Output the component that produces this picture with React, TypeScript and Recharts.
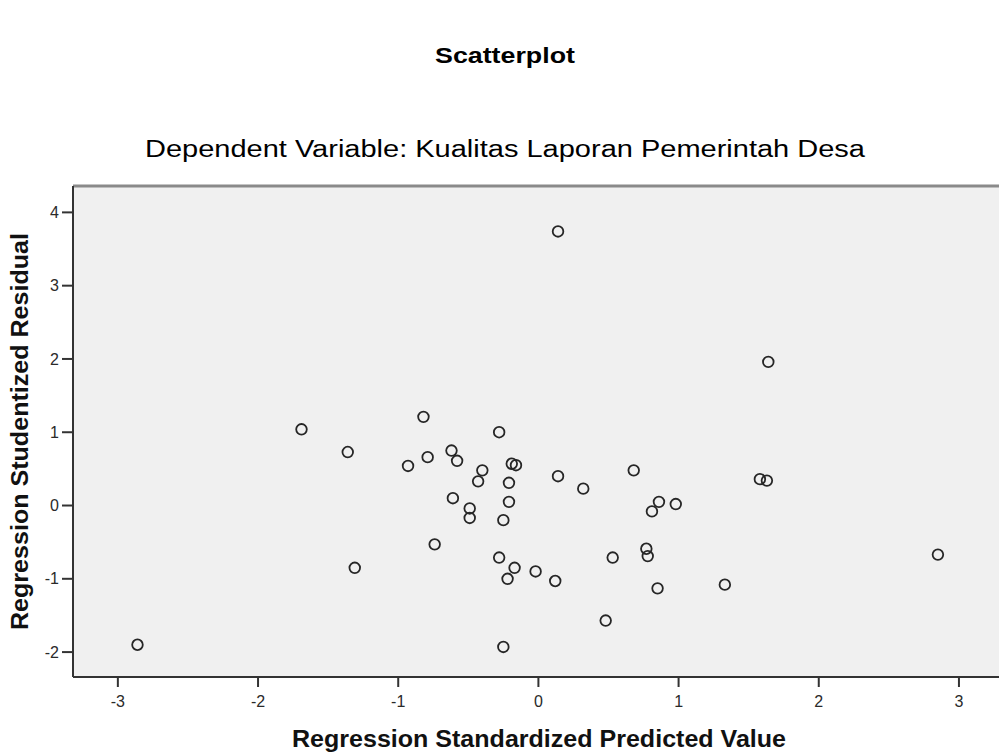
import { ScatterChart, Scatter, XAxis, YAxis, CartesianGrid, ReferenceLine } from "recharts";

// Regression Standardized Predicted Value (x) / Studentized Residual (y)
const predicted = [
  0.14, 1.64, -1.69, -0.82, -0.28, -1.36, -0.62, -0.79, -0.58, -0.93, -0.4,
  -0.19, -0.16, 0.14, 0.68, -0.43, -0.21, 0.32, 1.58, 1.63, -0.61, -0.21,
  0.86, 0.98, -0.49, -0.49, 0.81, -0.25, -0.74, 0.77, 0.78, 0.53, -0.28,
  -1.31, -0.17, -0.02, -0.22, 0.12, 1.33, 0.85, 0.48, 2.85, -2.86, -0.25,
];
const residual = [
  3.74, 1.96, 1.04, 1.21, 1.0, 0.73, 0.75, 0.66, 0.61, 0.54, 0.48,
  0.57, 0.55, 0.4, 0.48, 0.33, 0.31, 0.23, 0.36, 0.34, 0.1, 0.05,
  0.05, 0.02, -0.04, -0.17, -0.08, -0.2, -0.53, -0.59, -0.69, -0.71, -0.71,
  -0.85, -0.85, -0.9, -1.0, -1.03, -1.08, -1.13, -1.57, -0.67, -1.9, -1.93,
];
const xTicks = [-3, -2, -1, 0, 1, 2, 3];
const yTicks = [-2, -1, 0, 1, 2, 3, 4];

const X_DOMAIN: [number, number] = [-3.32, 3.3];
const Y_DOMAIN: [number, number] = [-2.34, 4.36];

const points = predicted.map((x, i) => ({ x, y: residual[i] }));

const FONT = "'Liberation Sans', Arial, sans-serif";

const Ring = (props: any) => (
  <circle cx={props.cx} cy={props.cy} r={5.3} fill="none" stroke="#262626" strokeWidth={1.8} />
);

export default function App() {
  return (
    <div style={{ position: "absolute", left: 0, top: 0, width: 999, height: 753, overflow: "hidden", background: "#fff", fontFamily: FONT }}>
      <ScatterChart width={1003} height={753} margin={{ top: 186, right: 2, bottom: 46, left: 43 }}>
        <CartesianGrid fill="#f0f0f0" stroke="none" horizontal={false} vertical={false} />
        <XAxis
          type="number"
          dataKey="x"
          domain={X_DOMAIN}
          ticks={xTicks}
          allowDataOverflow
          height={30}
          tickSize={10}
          tickMargin={9}
          tick={{ fontSize: 16, fill: "#2a2a2a", fontFamily: FONT }}
          tickLine={{ stroke: "#333", strokeWidth: 2 }}
          axisLine={{ stroke: "#333", strokeWidth: 2 }}
        />
        <YAxis
          type="number"
          dataKey="y"
          domain={Y_DOMAIN}
          ticks={yTicks}
          allowDataOverflow
          width={30}
          tickSize={11}
          tickMargin={3}
          tick={{ fontSize: 16, fill: "#2a2a2a", fontFamily: FONT }}
          tickLine={{ stroke: "#333", strokeWidth: 2 }}
          axisLine={{ stroke: "#333", strokeWidth: 2 }}
        />
        <ReferenceLine y={Y_DOMAIN[1]} stroke="#8a8a8a" strokeWidth={3} />
        <Scatter data={points} shape={Ring} isAnimationActive={false} />
      </ScatterChart>
      <svg width={999} height={753} style={{ position: "absolute", left: 0, top: 0, pointerEvents: "none" }}>
        <text x={505} y={63} textAnchor="middle" fontSize={22} fontWeight="bold" fill="#000" fontFamily={FONT} textLength={140} lengthAdjust="spacingAndGlyphs">
          Scatterplot
        </text>
        <text x={505} y={157} textAnchor="middle" fontSize={23} fill="#000" fontFamily={FONT} textLength={720} lengthAdjust="spacingAndGlyphs">
          Dependent Variable: Kualitas Laporan Pemerintah Desa
        </text>
        <text x={539} y={747} textAnchor="middle" fontSize={23} fontWeight="bold" fill="#111" fontFamily={FONT} textLength={494} lengthAdjust="spacingAndGlyphs">
          Regression Standardized Predicted Value
        </text>
        <text transform="translate(28,431.5) rotate(-90)" textAnchor="middle" fontSize={23} fontWeight="bold" fill="#111" fontFamily={FONT} textLength={397} lengthAdjust="spacingAndGlyphs">
          Regression Studentized Residual
        </text>
      </svg>
    </div>
  );
}
